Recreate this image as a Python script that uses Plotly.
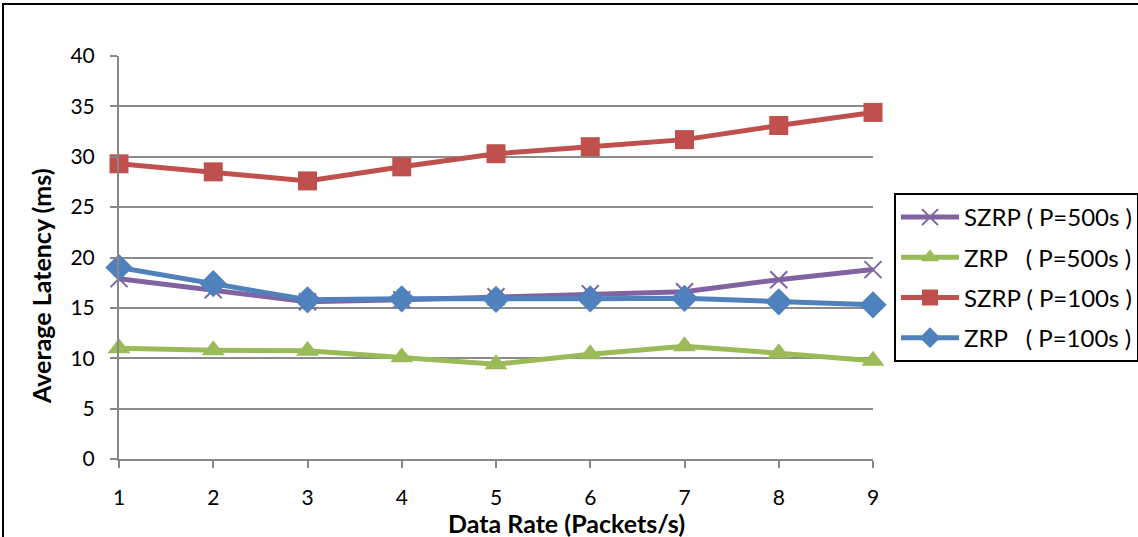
import plotly.graph_objects as go

data_rate = [1, 2, 3, 4, 5, 6, 7, 8, 9]
szrp_500 = [17.9, 16.8, 15.6, 15.8, 16.1, 16.4, 16.6, 17.8, 18.8]
zrp_500 = [11.0, 10.8, 10.75, 10.1, 9.4, 10.4, 11.2, 10.5, 9.75]
szrp_100 = [29.3, 28.5, 27.6, 29.0, 30.3, 31.0, 31.7, 33.1, 34.4]
zrp_100 = [19.0, 17.4, 15.8, 15.9, 15.85, 15.9, 15.95, 15.6, 15.3]

x_title = "Data Rate (Packets/s)"
y_title = "Average Latency (ms)"

NB = "\u00a0"
names = [
    "SZRP" + NB + "(" + NB + "P=500s" + NB + ")",
    "ZRP" + NB * 3 + "(" + NB + "P=500s" + NB + ")",
    "SZRP" + NB + "(" + NB + "P=100s" + NB + ")",
    "ZRP" + NB * 3 + "(" + NB + "P=100s" + NB + ")",
]
series = [szrp_500, zrp_500, szrp_100, zrp_100]
colors = ["#8064A2", "#9BBB59", "#C0504D", "#4F81BD"]
symbols = ["x-thin", "triangle-up", "square", "diamond"]
sizes = [17, 20, 19, 21]

fig = go.Figure()
for i, (nm, ys, c, sym, sz) in enumerate(zip(names, series, colors, symbols, sizes)):
    marker = dict(symbol=sym, size=sz, color=c, line=dict(width=2 if sym == "x-thin" else 0, color=c))
    fig.add_trace(go.Scatter(x=data_rate, y=ys, name=nm, mode="lines+markers", legendgroup=f"g{i}",
                             line=dict(color=c, width=5), marker=marker, cliponaxis=False))

L, R, T, B = 119, 873, 56, 459
W, H = 1138, 537
pw, ph = R - L, B - T

tickfont = dict(family="Lato, Open Sans, sans-serif", size=21, color="#000")
titlefont = dict(family="Lato, Open Sans, sans-serif", size=25, color="#000", weight="bold")

fig.update_layout(
    width=W, height=H,
    margin=dict(l=L, r=W - R, t=T, b=H - B, pad=0, autoexpand=False),
    paper_bgcolor="white", plot_bgcolor="white",
    showlegend=True,
    legend=dict(x=894 / W, y=1 - 193 / H, xref="container", yref="container",
                xanchor="left", yanchor="top",
                bordercolor="#000", borderwidth=2, bgcolor="white",
                font=dict(family="Lato, Open Sans, sans-serif", size=24, color="#000"),
                traceorder="grouped", tracegroupgap=6, itemwidth=58),
    xaxis=dict(range=[1, 9], tickvals=data_rate, ticks="outside", ticklen=7, tickwidth=2,
               tickcolor="#888", showline=True, linecolor="#888", linewidth=2, showgrid=False,
               zeroline=False, tickfont=tickfont, ticklabelstandoff=12, automargin=False),
    yaxis=dict(range=[0, 40], tickvals=[0, 5, 10, 15, 20, 25, 30, 35, 40], ticks="outside",
               ticklen=7, tickwidth=2, tickcolor="#888", showline=True, linecolor="#888",
               linewidth=2, showgrid=True, gridcolor="#8c8c8c", gridwidth=2, zeroline=False,
               tickfont=tickfont, ticklabelstandoff=11, automargin=False),
    annotations=[
        dict(text=x_title, xref="paper", yref="paper", x=(566 - L) / pw, y=(B - 523) / ph,
             xanchor="center", yanchor="middle", showarrow=False, font=titlefont),
        dict(text=y_title, xref="paper", yref="paper", x=(41 - L) / pw, y=(B - 286) / ph,
             xanchor="center", yanchor="middle", showarrow=False, font=titlefont, textangle=-90),
    ],
    shapes=[dict(type="rect", xref="paper", yref="paper",
                 x0=(3 - L) / pw, x1=(W + 5 - L) / pw,
                 y0=(B - (H + 5)) / ph, y1=(B - 4) / ph,
                 line=dict(color="#000", width=2), layer="below")],
)

fig.write_html("out.html", post_script="document.body.style.margin='0';",
               config={"displayModeBar": False})
